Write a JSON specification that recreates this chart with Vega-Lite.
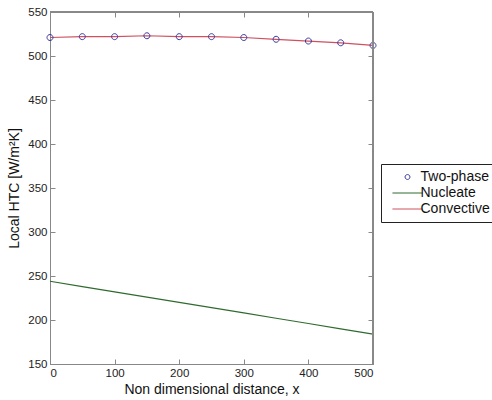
{
  "$schema": "https://vega.github.io/schema/vega-lite/v6.json",
  "width": 323,
  "height": 352,
  "autosize": {"type": "none"},
  "padding": {"left": 50, "top": 12, "right": 119, "bottom": 36},
  "background": "white",
  "config": {
    "font": "Liberation Sans",
    "view": {"stroke": "#888888", "strokeWidth": 1},
    "axis": {"grid": false, "domainColor": "#888888", "tickColor": "#888888", "labelColor": "#222222", "labelFontSize": 11.5, "labelFont": "Liberation Sans", "titleFont": "Liberation Sans", "titleFontSize": 14, "titleFontWeight": "normal", "titleColor": "#111111", "tickSize": -5, "labelPadding": 8}
  },
  "data": {"values": [
    {"series": "Two-phase", "x": 0, "y": 521},
    {"series": "Two-phase", "x": 50, "y": 522},
    {"series": "Two-phase", "x": 100, "y": 522},
    {"series": "Two-phase", "x": 150, "y": 523},
    {"series": "Two-phase", "x": 200, "y": 522},
    {"series": "Two-phase", "x": 250, "y": 522},
    {"series": "Two-phase", "x": 300, "y": 521},
    {"series": "Two-phase", "x": 350, "y": 519},
    {"series": "Two-phase", "x": 400, "y": 517},
    {"series": "Two-phase", "x": 450, "y": 515},
    {"series": "Two-phase", "x": 500, "y": 512},
    {"series": "Convective", "x": 0, "y": 521},
    {"series": "Convective", "x": 50, "y": 522},
    {"series": "Convective", "x": 100, "y": 522},
    {"series": "Convective", "x": 150, "y": 523},
    {"series": "Convective", "x": 200, "y": 522},
    {"series": "Convective", "x": 250, "y": 522},
    {"series": "Convective", "x": 300, "y": 521},
    {"series": "Convective", "x": 350, "y": 519},
    {"series": "Convective", "x": 400, "y": 517},
    {"series": "Convective", "x": 450, "y": 515},
    {"series": "Convective", "x": 500, "y": 512},
    {"series": "Nucleate", "x": 0, "y": 244},
    {"series": "Nucleate", "x": 50, "y": 238},
    {"series": "Nucleate", "x": 100, "y": 232},
    {"series": "Nucleate", "x": 150, "y": 226},
    {"series": "Nucleate", "x": 200, "y": 220},
    {"series": "Nucleate", "x": 250, "y": 214},
    {"series": "Nucleate", "x": 300, "y": 208},
    {"series": "Nucleate", "x": 350, "y": 202},
    {"series": "Nucleate", "x": 400, "y": 196},
    {"series": "Nucleate", "x": 450, "y": 190},
    {"series": "Nucleate", "x": 500, "y": 184}
  ]},
  "resolve": {"axis": {"x": "independent", "y": "independent"}},
  "layer": [
    {"transform": [{"filter": "datum.series !== 'Two-phase'"}], "mark": {"type": "line", "strokeWidth": 1.2},
      "encoding": {
        "x": {"field": "x", "type": "quantitative", "scale": {"domain": [0, 500], "nice": false}, "axis": {"values": [0, 100, 200, 300, 400, 500], "title": "Non dimensional distance, x", "titlePadding": 4}},
        "y": {"field": "y", "type": "quantitative", "scale": {"domain": [150, 550], "nice": false, "zero": false}, "axis": {"values": [150, 200, 250, 300, 350, 400, 450, 500, 550], "title": "Local HTC [W/m²K]", "titlePadding": 6}},
        "stroke": {"field": "series", "type": "nominal", "scale": {"domain": ["Nucleate", "Convective"], "range": ["#2f6b2f", "#d05060"]}, "legend": null}
      }},
    {"mark": {"type": "point", "filled": false, "size": 73, "strokeWidth": 1},
      "encoding": {
        "x": {"field": "x", "type": "quantitative", "axis": null},
        "y": {"field": "y", "type": "quantitative", "axis": null},
        "opacity": {"condition": {"test": "datum.series === 'Two-phase'", "value": 1}, "value": 0},
        "color": {"field": "series", "type": "nominal", "scale": {"domain": ["Two-phase", "Nucleate", "Convective"], "range": ["#3a3aa0", "#2f6b2f", "#d05060"]},
          "legend": {"title": null, "orient": "none", "legendX": 331, "legendY": 152, "strokeColor": "#222222", "padding": 6, "labelFontSize": 14, "labelColor": "#111111", "labelFont": "Liberation Sans", "symbolSize": 49, "symbolStrokeWidth": 1, "symbolOpacity": 1, "symbolOffset": 13.5, "rowPadding": 2, "labelOffset": 6}},
        "shape": {"field": "series", "type": "nominal", "scale": {"domain": ["Two-phase", "Nucleate", "Convective"], "range": ["M -0.7,0 A 0.7,0.7 0 1,0 0.7,0 A 0.7,0.7 0 1,0 -0.7,0 Z", "M -4.3,0 H 4.3", "M -4.3,0 H 4.3"]},
          "legend": {"title": null, "orient": "none", "legendX": 331, "legendY": 152, "strokeColor": "#222222", "padding": 6, "labelFontSize": 14, "labelColor": "#111111", "labelFont": "Liberation Sans", "symbolSize": 49, "symbolStrokeWidth": 1, "symbolOpacity": 1, "symbolOffset": 13.5, "rowPadding": 2, "labelOffset": 6}}}},
    {"mark": {"type": "rule", "color": "#888888"}, "encoding": {"x": {"datum": 500, "type": "quantitative", "axis": {"orient": "top", "values": [0, 100, 200, 300, 400, 500], "labels": false, "title": null}}}},
    {"mark": {"type": "rule", "color": "#888888"}, "encoding": {"y": {"datum": 550, "type": "quantitative", "axis": {"orient": "right", "values": [150, 200, 250, 300, 350, 400, 450, 500, 550], "labels": false, "title": null}}}}
  ]
}
